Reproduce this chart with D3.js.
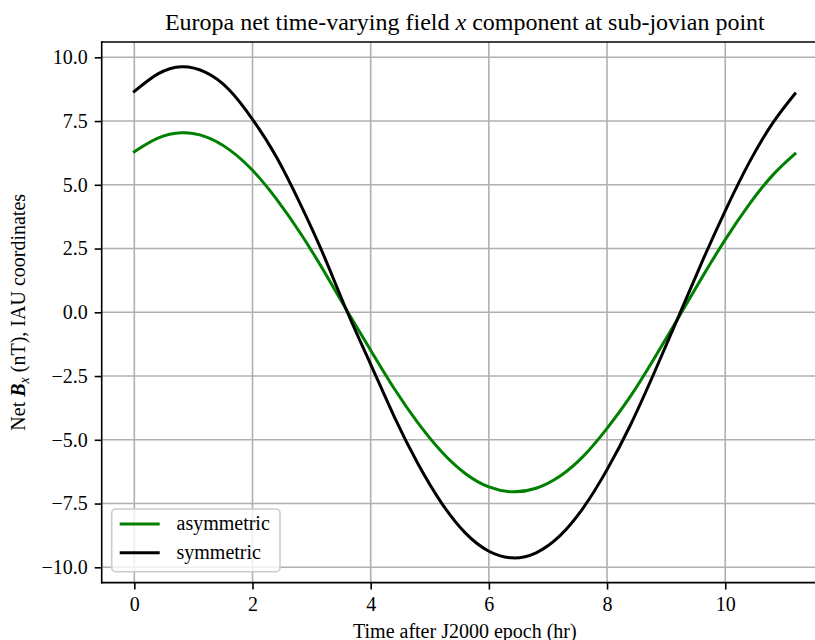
<!DOCTYPE html>
<html>
<head>
<meta charset="utf-8">
<script src="https://cdn.jsdelivr.net/npm/d3@7"></script>
<style>
  html, body { margin: 0; padding: 0; background: #fff; }
  svg { display: block; }
  svg text { font-family: "Liberation Serif", "Times New Roman", serif !important; fill: #000; }
</style>
</head>
<body>
<script>
// ---- data ----
const times = [0, 0.4, 0.8, 1.2, 1.6, 2.0, 2.4, 2.8, 3.2, 3.6, 4.0, 4.4, 4.8, 5.2, 5.6, 6.0, 6.4, 6.8, 7.2, 7.6, 8.0, 8.4, 8.8, 9.2, 9.6, 10.0, 10.4, 10.8, 11.18];
const asymmetric = [6.30, 6.83, 7.04, 6.89, 6.39, 5.57, 4.46, 3.14, 1.65, 0.06, -1.49, -3.00, -4.34, -5.47, -6.32, -6.85, -7.04, -6.90, -6.43, -5.64, -4.55, -3.28, -1.80, -0.24, 1.34, 2.85, 4.21, 5.37, 6.21];
const symmetric  = [8.66, 9.35, 9.63, 9.42, 8.74, 7.57, 6.11, 4.29, 2.26, 0.03, -2.04, -4.10, -5.94, -7.48, -8.65, -9.37, -9.63, -9.43, -8.77, -7.66, -6.17, -4.40, -2.36, -0.22, 1.94, 3.98, 5.85, 7.41, 8.57];
const seriesNames = ["asymmetric", "symmetric"];
const seriesColors = ["#008000", "#000000"];
const xTicks = [0, 2, 4, 6, 8, 10];
const yTicks = [-10, -7.5, -5, -2.5, 0, 2.5, 5, 7.5, 10];

// ---- layout ----
const W = 815, H = 640;
const L = 101.7, R = 828, T = 42, B = 582.6;
const FONT = '"Liberation Serif", "Times New Roman", serif';

const svg = d3.select("body").append("svg").attr("width", W).attr("height", H);

const x = d3.scaleLinear().domain([-0.552, 11.739]).range([L, R]);
const y = d3.scaleLinear().domain([-10.6, 10.6]).range([B, T]);

// grid
const grid = svg.append("g");
grid.selectAll("line.vx").data(xTicks).join("line")
  .attr("x1", d => x(d)).attr("x2", d => x(d)).attr("y1", T).attr("y2", B)
  .attr("stroke", "#b0b0b0").attr("stroke-width", 1.6);
grid.selectAll("line.hy").data(yTicks).join("line")
  .attr("x1", L).attr("x2", R).attr("y1", d => y(d)).attr("y2", d => y(d))
  .attr("stroke", "#b0b0b0").attr("stroke-width", 1.6);

// lines
svg.append("clipPath").attr("id", "clip").append("rect")
  .attr("x", L).attr("y", T).attr("width", R - L).attr("height", B - T);
const line = d3.line().x(d => x(d[0])).y(d => y(d[1])).curve(d3.curveNatural);
const series = [asymmetric, symmetric];
series.forEach((vals, i) => {
  svg.append("path")
    .attr("clip-path", "url(#clip)")
    .attr("d", line(times.map((t, j) => [t, vals[j]])))
    .attr("fill", "none")
    .attr("stroke", seriesColors[i])
    .attr("stroke-width", 3)
    .attr("stroke-linejoin", "round")
    .attr("stroke-linecap", "square");
});

// axes
const xAxis = d3.axisBottom(x).tickValues(xTicks).tickSize(7).tickPadding(7).tickFormat(d3.format("d"));
const gx = svg.append("g").attr("transform", `translate(0,${B})`).call(xAxis);
gx.attr("font-family", FONT).attr("font-size", 20);
gx.select(".domain").remove();
gx.selectAll(".tick line").attr("stroke", "#000").attr("stroke-width", 1.6);
gx.selectAll(".tick text").style("font-family", FONT).attr("font-size", 20).attr("fill", "#000");

const yAxis = d3.axisLeft(y).tickValues(yTicks).tickSize(7).tickPadding(7).tickFormat(d3.format(".1f"));
const gy = svg.append("g").attr("transform", `translate(${L},0)`).call(yAxis);
gy.attr("font-family", FONT).attr("font-size", 20);
gy.select(".domain").remove();
gy.selectAll(".tick line").attr("stroke", "#000").attr("stroke-width", 1.6);
gy.selectAll(".tick text").style("font-family", FONT).attr("font-size", 20).attr("fill", "#000");

// spines
const sp = svg.append("g").attr("stroke", "#000").attr("stroke-width", 1.6).attr("stroke-linecap", "square");
sp.append("line").attr("x1", L).attr("x2", L).attr("y1", T).attr("y2", B);
sp.append("line").attr("x1", L).attr("x2", R).attr("y1", B).attr("y2", B);
sp.append("line").attr("x1", L).attr("x2", R).attr("y1", T).attr("y2", T);
sp.append("line").attr("x1", R).attr("x2", R).attr("y1", T).attr("y2", B);

// title
const title = svg.append("text").attr("x", (L + R) / 2).attr("y", 30)
  .attr("text-anchor", "middle").attr("font-size", 24).style("font-family", FONT);
title.append("tspan").text("Europa net time-varying field ");
title.append("tspan").attr("font-style", "italic").text("x");
title.append("tspan").text(" component at sub-jovian point");

// x label
svg.append("text").attr("x", (L + R) / 2).attr("y", 638)
  .attr("text-anchor", "middle").attr("font-size", 20).style("font-family", FONT)
  .text("Time after J2000 epoch (hr)");

// y label
const yl = svg.append("text")
  .attr("transform", `translate(25,${(T + B) / 2}) rotate(-90)`)
  .attr("text-anchor", "middle").attr("font-size", 20).style("font-family", FONT);
yl.append("tspan").text("Net ");
yl.append("tspan").attr("font-style", "italic").attr("font-weight", "bold").text("B");
yl.append("tspan").attr("font-style", "italic").attr("font-size", 14).attr("dy", 4).text("x");
yl.append("tspan").attr("dy", -4).text(" (nT), IAU coordinates");

// legend
const lg = svg.append("g");
lg.append("rect").attr("x", 111.7).attr("y", 509).attr("width", 168.3).attr("height", 62.7)
  .attr("rx", 4).attr("ry", 4)
  .attr("fill", "#fff").attr("fill-opacity", 0.8)
  .attr("stroke", "#cccccc").attr("stroke-width", 1.6);
const rowY = [524, 552.7];
seriesNames.forEach((name, i) => {
  lg.append("line").attr("x1", 119.7).attr("x2", 159.7).attr("y1", rowY[i]).attr("y2", rowY[i])
    .attr("stroke", seriesColors[i]).attr("stroke-width", 3);
  lg.append("text").attr("x", 176.5).attr("y", rowY[i]).attr("dy", "0.32em")
    .attr("font-size", 20).style("font-family", FONT).text(name);
});
</script>
</body>
</html>
